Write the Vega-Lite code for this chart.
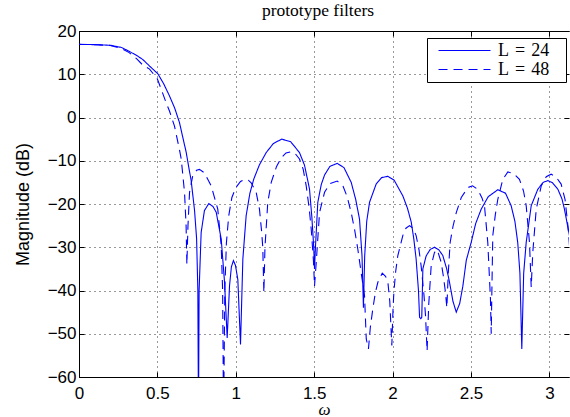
{
"$schema": "https://vega.github.io/schema/vega-lite/v6.json",
"width": 490, "height": 346,
"autosize": "none",
"padding": {"left": 79, "top": 31, "right": 1, "bottom": 40},
"background": "white",
"title": {"text": "prototype filters", "font": "Liberation Serif", "fontSize": 17.5, "fontWeight": "normal", "color": "black", "anchor": "middle", "frame": "group", "baseline": "alphabetic", "offset": -11, "dx": -6},
"datasets": {
"curves": [
{"w":0,"dB":16.9,"L":"L = 24"},{"w":0.1,"dB":16.85,"L":"L = 24"},{"w":0.2,"dB":16.7,"L":"L = 24"},{"w":0.27,"dB":16.2,"L":"L = 24"},{"w":0.32,"dB":15.3,"L":"L = 24"},{"w":0.37,"dB":14.3,"L":"L = 24"},{"w":0.407,"dB":13.4,"L":"L = 24"},{"w":0.45,"dB":11.9,"L":"L = 24"},{"w":0.503,"dB":10.1,"L":"L = 24"},{"w":0.54,"dB":7.8,"L":"L = 24"},{"w":0.577,"dB":5.0,"L":"L = 24"},{"w":0.61,"dB":2.2,"L":"L = 24"},{"w":0.641,"dB":-1.2,"L":"L = 24"},{"w":0.662,"dB":-4.6,"L":"L = 24"},{"w":0.684,"dB":-8.1,"L":"L = 24"},{"w":0.7,"dB":-11.5,"L":"L = 24"},{"w":0.715,"dB":-14.5,"L":"L = 24"},{"w":0.737,"dB":-21.5,"L":"L = 24"},{"w":0.75,"dB":-28,"L":"L = 24"},{"w":0.758,"dB":-40,"L":"L = 24"},{"w":0.762,"dB":-70,"L":"L = 24"},{"w":0.766,"dB":-40,"L":"L = 24"},{"w":0.779,"dB":-26.6,"L":"L = 24"},{"w":0.8,"dB":-21.5,"L":"L = 24"},{"w":0.828,"dB":-19.9,"L":"L = 24"},{"w":0.855,"dB":-20.6,"L":"L = 24"},{"w":0.875,"dB":-21.9,"L":"L = 24"},{"w":0.907,"dB":-28.1,"L":"L = 24"},{"w":0.928,"dB":-38,"L":"L = 24"},{"w":0.945,"dB":-51,"L":"L = 24"},{"w":0.96,"dB":-38.9,"L":"L = 24"},{"w":0.972,"dB":-34.5,"L":"L = 24"},{"w":0.985,"dB":-33.1,"L":"L = 24"},{"w":0.998,"dB":-34.2,"L":"L = 24"},{"w":1.013,"dB":-37.5,"L":"L = 24"},{"w":1.03,"dB":-52.5,"L":"L = 24"},{"w":1.045,"dB":-32.7,"L":"L = 24"},{"w":1.066,"dB":-22.7,"L":"L = 24"},{"w":1.09,"dB":-17.5,"L":"L = 24"},{"w":1.115,"dB":-14.2,"L":"L = 24"},{"w":1.15,"dB":-11,"L":"L = 24"},{"w":1.194,"dB":-8.1,"L":"L = 24"},{"w":1.24,"dB":-6,"L":"L = 24"},{"w":1.293,"dB":-5.0,"L":"L = 24"},{"w":1.35,"dB":-5.6,"L":"L = 24"},{"w":1.406,"dB":-8.1,"L":"L = 24"},{"w":1.438,"dB":-11,"L":"L = 24"},{"w":1.47,"dB":-16.5,"L":"L = 24"},{"w":1.485,"dB":-23,"L":"L = 24"},{"w":1.497,"dB":-30,"L":"L = 24"},{"w":1.502,"dB":-35,"L":"L = 24"},{"w":1.508,"dB":-30,"L":"L = 24"},{"w":1.523,"dB":-19.6,"L":"L = 24"},{"w":1.545,"dB":-15.5,"L":"L = 24"},{"w":1.566,"dB":-13.3,"L":"L = 24"},{"w":1.6,"dB":-11.3,"L":"L = 24"},{"w":1.647,"dB":-10.6,"L":"L = 24"},{"w":1.69,"dB":-11.6,"L":"L = 24"},{"w":1.736,"dB":-15.0,"L":"L = 24"},{"w":1.765,"dB":-19,"L":"L = 24"},{"w":1.789,"dB":-23.5,"L":"L = 24"},{"w":1.805,"dB":-32,"L":"L = 24"},{"w":1.814,"dB":-44,"L":"L = 24"},{"w":1.822,"dB":-32,"L":"L = 24"},{"w":1.835,"dB":-24,"L":"L = 24"},{"w":1.853,"dB":-19.6,"L":"L = 24"},{"w":1.895,"dB":-15.4,"L":"L = 24"},{"w":1.93,"dB":-13.9,"L":"L = 24"},{"w":1.97,"dB":-13.6,"L":"L = 24"},{"w":2.01,"dB":-14.5,"L":"L = 24"},{"w":2.065,"dB":-18.1,"L":"L = 24"},{"w":2.095,"dB":-21,"L":"L = 24"},{"w":2.119,"dB":-24.2,"L":"L = 24"},{"w":2.135,"dB":-28,"L":"L = 24"},{"w":2.15,"dB":-32.7,"L":"L = 24"},{"w":2.165,"dB":-40,"L":"L = 24"},{"w":2.172,"dB":-46.2,"L":"L = 24"},{"w":2.18,"dB":-46.5,"L":"L = 24"},{"w":2.186,"dB":-46.2,"L":"L = 24"},{"w":2.193,"dB":-35,"L":"L = 24"},{"w":2.214,"dB":-32,"L":"L = 24"},{"w":2.24,"dB":-30.5,"L":"L = 24"},{"w":2.267,"dB":-30.0,"L":"L = 24"},{"w":2.295,"dB":-30.6,"L":"L = 24"},{"w":2.32,"dB":-31.9,"L":"L = 24"},{"w":2.345,"dB":-35,"L":"L = 24"},{"w":2.363,"dB":-38.1,"L":"L = 24"},{"w":2.385,"dB":-42.5,"L":"L = 24"},{"w":2.406,"dB":-45.0,"L":"L = 24"},{"w":2.428,"dB":-43,"L":"L = 24"},{"w":2.448,"dB":-39,"L":"L = 24"},{"w":2.47,"dB":-33,"L":"L = 24"},{"w":2.501,"dB":-28.9,"L":"L = 24"},{"w":2.53,"dB":-24.5,"L":"L = 24"},{"w":2.565,"dB":-21.2,"L":"L = 24"},{"w":2.61,"dB":-18.3,"L":"L = 24"},{"w":2.671,"dB":-16.7,"L":"L = 24"},{"w":2.72,"dB":-17.5,"L":"L = 24"},{"w":2.756,"dB":-20.4,"L":"L = 24"},{"w":2.78,"dB":-24,"L":"L = 24"},{"w":2.798,"dB":-28.9,"L":"L = 24"},{"w":2.812,"dB":-36,"L":"L = 24"},{"w":2.824,"dB":-53.5,"L":"L = 24"},{"w":2.836,"dB":-36,"L":"L = 24"},{"w":2.852,"dB":-28.9,"L":"L = 24"},{"w":2.884,"dB":-20.4,"L":"L = 24"},{"w":2.926,"dB":-16.6,"L":"L = 24"},{"w":2.96,"dB":-15,"L":"L = 24"},{"w":2.99,"dB":-14.6,"L":"L = 24"},{"w":3.02,"dB":-15.1,"L":"L = 24"},{"w":3.054,"dB":-16.6,"L":"L = 24"},{"w":3.08,"dB":-18.8,"L":"L = 24"},{"w":3.096,"dB":-21.2,"L":"L = 24"},{"w":3.128,"dB":-27.3,"L":"L = 24"},{"w":3.1416,"dB":-30,"L":"L = 24"},
{"w":0,"dB":16.9,"L":"L = 48"},{"w":0.1,"dB":16.85,"L":"L = 48"},{"w":0.2,"dB":16.65,"L":"L = 48"},{"w":0.27,"dB":16.0,"L":"L = 48"},{"w":0.32,"dB":15.0,"L":"L = 48"},{"w":0.37,"dB":13.5,"L":"L = 48"},{"w":0.41,"dB":12.0,"L":"L = 48"},{"w":0.45,"dB":11.2,"L":"L = 48"},{"w":0.5,"dB":8.9,"L":"L = 48"},{"w":0.556,"dB":3.4,"L":"L = 48"},{"w":0.577,"dB":1.5,"L":"L = 48"},{"w":0.609,"dB":-2,"L":"L = 48"},{"w":0.641,"dB":-7.5,"L":"L = 48"},{"w":0.652,"dB":-9.6,"L":"L = 48"},{"w":0.673,"dB":-17.3,"L":"L = 48"},{"w":0.683,"dB":-25,"L":"L = 48"},{"w":0.688,"dB":-34,"L":"L = 48"},{"w":0.695,"dB":-25,"L":"L = 48"},{"w":0.705,"dB":-17.3,"L":"L = 48"},{"w":0.725,"dB":-13.5,"L":"L = 48"},{"w":0.75,"dB":-12.2,"L":"L = 48"},{"w":0.768,"dB":-12,"L":"L = 48"},{"w":0.8,"dB":-12.8,"L":"L = 48"},{"w":0.843,"dB":-15.8,"L":"L = 48"},{"w":0.885,"dB":-21.2,"L":"L = 48"},{"w":0.907,"dB":-29.6,"L":"L = 48"},{"w":0.916,"dB":-40,"L":"L = 48"},{"w":0.922,"dB":-70,"L":"L = 48"},{"w":0.93,"dB":-40,"L":"L = 48"},{"w":0.94,"dB":-29,"L":"L = 48"},{"w":0.955,"dB":-22.7,"L":"L = 48"},{"w":0.975,"dB":-18.5,"L":"L = 48"},{"w":1.0,"dB":-16.2,"L":"L = 48"},{"w":1.03,"dB":-14.8,"L":"L = 48"},{"w":1.056,"dB":-14.3,"L":"L = 48"},{"w":1.08,"dB":-14.5,"L":"L = 48"},{"w":1.098,"dB":-15.1,"L":"L = 48"},{"w":1.13,"dB":-17.3,"L":"L = 48"},{"w":1.151,"dB":-21.2,"L":"L = 48"},{"w":1.165,"dB":-26.5,"L":"L = 48"},{"w":1.172,"dB":-30,"L":"L = 48"},{"w":1.179,"dB":-40.5,"L":"L = 48"},{"w":1.186,"dB":-30,"L":"L = 48"},{"w":1.204,"dB":-19.6,"L":"L = 48"},{"w":1.226,"dB":-15,"L":"L = 48"},{"w":1.26,"dB":-11.3,"L":"L = 48"},{"w":1.29,"dB":-9.3,"L":"L = 48"},{"w":1.32,"dB":-8.2,"L":"L = 48"},{"w":1.353,"dB":-7.9,"L":"L = 48"},{"w":1.38,"dB":-8.4,"L":"L = 48"},{"w":1.406,"dB":-9.6,"L":"L = 48"},{"w":1.43,"dB":-12,"L":"L = 48"},{"w":1.449,"dB":-15.8,"L":"L = 48"},{"w":1.468,"dB":-21,"L":"L = 48"},{"w":1.481,"dB":-25.8,"L":"L = 48"},{"w":1.495,"dB":-33,"L":"L = 48"},{"w":1.502,"dB":-39,"L":"L = 48"},{"w":1.513,"dB":-33.5,"L":"L = 48"},{"w":1.534,"dB":-22,"L":"L = 48"},{"w":1.566,"dB":-17.3,"L":"L = 48"},{"w":1.6,"dB":-15.3,"L":"L = 48"},{"w":1.647,"dB":-14.7,"L":"L = 48"},{"w":1.683,"dB":-15.8,"L":"L = 48"},{"w":1.71,"dB":-18.3,"L":"L = 48"},{"w":1.736,"dB":-22,"L":"L = 48"},{"w":1.758,"dB":-26,"L":"L = 48"},{"w":1.778,"dB":-30.4,"L":"L = 48"},{"w":1.8,"dB":-36,"L":"L = 48"},{"w":1.821,"dB":-41.2,"L":"L = 48"},{"w":1.832,"dB":-51.2,"L":"L = 48"},{"w":1.846,"dB":-53.5,"L":"L = 48"},{"w":1.858,"dB":-48.5,"L":"L = 48"},{"w":1.874,"dB":-44.2,"L":"L = 48"},{"w":1.89,"dB":-40.5,"L":"L = 48"},{"w":1.906,"dB":-38.1,"L":"L = 48"},{"w":1.934,"dB":-36,"L":"L = 48"},{"w":1.955,"dB":-36.7,"L":"L = 48"},{"w":1.97,"dB":-38.1,"L":"L = 48"},{"w":1.982,"dB":-42.5,"L":"L = 48"},{"w":1.991,"dB":-49.6,"L":"L = 48"},{"w":1.995,"dB":-52.7,"L":"L = 48"},{"w":2.002,"dB":-45,"L":"L = 48"},{"w":2.008,"dB":-40.4,"L":"L = 48"},{"w":2.02,"dB":-35.5,"L":"L = 48"},{"w":2.033,"dB":-32,"L":"L = 48"},{"w":2.065,"dB":-27.3,"L":"L = 48"},{"w":2.085,"dB":-25.6,"L":"L = 48"},{"w":2.108,"dB":-25,"L":"L = 48"},{"w":2.13,"dB":-25.6,"L":"L = 48"},{"w":2.15,"dB":-27.3,"L":"L = 48"},{"w":2.168,"dB":-30.5,"L":"L = 48"},{"w":2.182,"dB":-34.3,"L":"L = 48"},{"w":2.2,"dB":-41,"L":"L = 48"},{"w":2.21,"dB":-45.8,"L":"L = 48"},{"w":2.22,"dB":-54,"L":"L = 48"},{"w":2.23,"dB":-43.5,"L":"L = 48"},{"w":2.246,"dB":-34.3,"L":"L = 48"},{"w":2.267,"dB":-31.2,"L":"L = 48"},{"w":2.285,"dB":-30.6,"L":"L = 48"},{"w":2.31,"dB":-33.5,"L":"L = 48"},{"w":2.325,"dB":-37,"L":"L = 48"},{"w":2.337,"dB":-40.4,"L":"L = 48"},{"w":2.346,"dB":-44,"L":"L = 48"},{"w":2.355,"dB":-36,"L":"L = 48"},{"w":2.367,"dB":-28.9,"L":"L = 48"},{"w":2.385,"dB":-25.2,"L":"L = 48"},{"w":2.406,"dB":-22,"L":"L = 48"},{"w":2.438,"dB":-18.5,"L":"L = 48"},{"w":2.48,"dB":-16.2,"L":"L = 48"},{"w":2.51,"dB":-15.8,"L":"L = 48"},{"w":2.543,"dB":-16.6,"L":"L = 48"},{"w":2.57,"dB":-18.6,"L":"L = 48"},{"w":2.586,"dB":-20.4,"L":"L = 48"},{"w":2.607,"dB":-28.9,"L":"L = 48"},{"w":2.624,"dB":-41.9,"L":"L = 48"},{"w":2.629,"dB":-50,"L":"L = 48"},{"w":2.634,"dB":-38,"L":"L = 48"},{"w":2.639,"dB":-27.3,"L":"L = 48"},{"w":2.655,"dB":-22.5,"L":"L = 48"},{"w":2.671,"dB":-18.9,"L":"L = 48"},{"w":2.703,"dB":-14.3,"L":"L = 48"},{"w":2.735,"dB":-12.6,"L":"L = 48"},{"w":2.77,"dB":-12.9,"L":"L = 48"},{"w":2.809,"dB":-14.3,"L":"L = 48"},{"w":2.835,"dB":-17,"L":"L = 48"},{"w":2.852,"dB":-20.4,"L":"L = 48"},{"w":2.873,"dB":-28.9,"L":"L = 48"},{"w":2.884,"dB":-39.2,"L":"L = 48"},{"w":2.894,"dB":-31.2,"L":"L = 48"},{"w":2.916,"dB":-21.2,"L":"L = 48"},{"w":2.948,"dB":-15.8,"L":"L = 48"},{"w":2.98,"dB":-13.7,"L":"L = 48"},{"w":3.011,"dB":-13.1,"L":"L = 48"},{"w":3.045,"dB":-13.9,"L":"L = 48"},{"w":3.075,"dB":-15.4,"L":"L = 48"},{"w":3.1,"dB":-19,"L":"L = 48"},{"w":3.118,"dB":-25,"L":"L = 48"},{"w":3.128,"dB":-29.6,"L":"L = 48"},{"w":3.1416,"dB":-33,"L":"L = 48"}
]
},
"data": {"name": "curves"},
"layer": [
{
"mark": {"type": "line", "clip": true, "strokeWidth": 1.1, "color": "#0000ff"},
"encoding": {
"x": {"field": "w", "type": "quantitative", "scale": {"domain": [0, 3.125], "nice": false, "zero": false},
  "axis": {"orient": "bottom", "values": [0,0.5,1,1.5,2,2.5,3], "format": "~g", "labelFlush": false, "labelOverlap": false, "labelPadding": 13, "tickSize": -5, "grid": true, "title": "ω", "titleFont": "Liberation Serif", "titleFontStyle": "italic", "titleFontWeight": "normal", "titleFontSize": 17, "titlePadding": 0}},
"y": {"field": "dB", "type": "quantitative", "scale": {"domain": [-60, 20], "nice": false, "zero": false},
  "axis": {"orient": "left", "values": [-60,-50,-40,-30,-20,-10,0,10,20], "labelPadding": 8, "tickSize": -5, "grid": true, "title": "Magnitude (dB)", "titleFont": "Liberation Sans", "titleFontWeight": "normal", "titleFontSize": 18, "titlePadding": 15}},
"strokeDash": {"field": "L", "type": "nominal", "scale": {"domain": ["L = 24", "L = 48"], "range": [[1, 0], [9, 6]]},
  "legend": {"orient": "none", "legendX": 348, "legendY": 7, "title": null, "strokeColor": "black", "fillColor": "white", "padding": 3, "symbolType": "M-3,0H3", "symbolSize": 300, "symbolOffset": 25, "symbolStrokeWidth": 1.1, "symbolStrokeColor": "#0000ff", "symbolFillColor": "transparent", "labelFont": "Liberation Serif", "labelFontSize": 18, "labelColor": "black", "labelOffset": 24, "rowPadding": 0, "labelExpr": "datum.label == 'L = 24' ? 'L\u2004=\u200424\u2800' : 'L\u2004=\u200448\u2800'"}}
}
},
{
"mark": {"type": "line", "opacity": 0},
"encoding": {
"x": {"field": "w", "type": "quantitative", "axis": {"orient": "top", "values": [0,0.5,1,1.5,2,2.5,3], "labels": false, "grid": false, "tickSize": -5, "title": null}},
"y": {"field": "dB", "type": "quantitative", "axis": {"orient": "right", "values": [-60,-50,-40,-30,-20,-10,0,10,20], "labels": false, "grid": false, "domain": false, "tickSize": -5, "title": null}}
}
}
],
"resolve": {"axis": {"x": "independent", "y": "independent"}},
"config": {
"view": {"stroke": null},
"axis": {"domainColor": "black", "domainWidth": 1, "tickColor": "black", "tickWidth": 1, "labelFont": "Liberation Sans", "labelFontSize": 17, "labelColor": "black", "titleColor": "black", "gridColor": "black", "gridDash": [1, 4], "gridOpacity": 0.8, "gridWidth": 1}
}
}
